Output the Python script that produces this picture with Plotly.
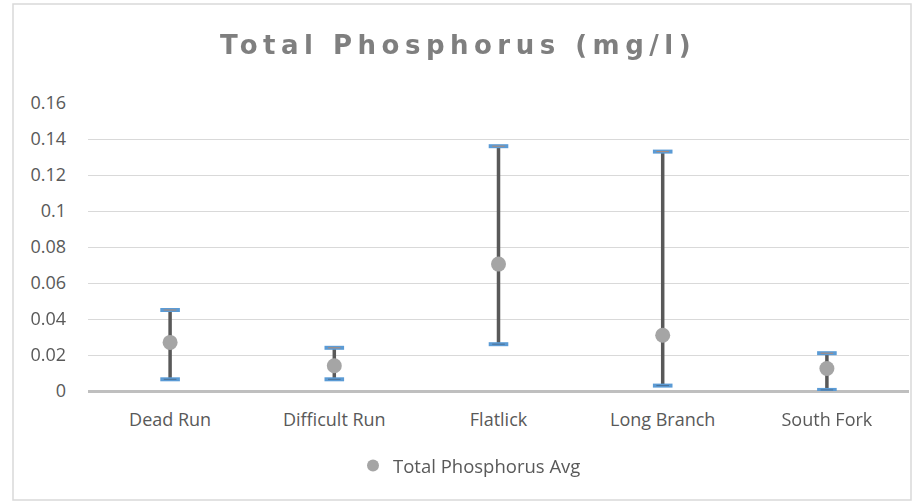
import plotly.graph_objects as go

categories = ["Dead Run", "Difficult Run", "Flatlick", "Long Branch", "South Fork"]
tp_max = [0.045, 0.024, 0.136, 0.133, 0.021]
tp_min = [0.0065, 0.0065, 0.026, 0.003, 0.0006]
tp_avg = [0.027, 0.014, 0.0705, 0.031, 0.0125]
y_ticks = [0, 0.02, 0.04, 0.06, 0.08, 0.1, 0.12, 0.14, 0.16]
y_tick_text = ["0", "0.02", "0.04", "0.06", "0.08", "0.1", "0.12", "0.14", "0.16"]

W, H = 916, 502
L, R, T, B = 88, 7, 103, 111
pw, ph = W - L - R, H - T - B

# high-low segments
hl_x, hl_y = [], []
for c, lo, hi in zip(categories, tp_min, tp_max):
    hl_x += [c, c, None]
    hl_y += [lo, hi, None]

fig = go.Figure()
fig.add_trace(go.Scatter(x=hl_x, y=hl_y, mode="lines",
                         line=dict(color="#595959", width=3.5),
                         showlegend=False, hoverinfo="skip"))
for vals, inner in [(tp_max, "#ED7D31"), (tp_min, "#44546A")]:
    fig.add_trace(go.Scatter(x=categories, y=vals, mode="markers",
                             marker=dict(symbol="line-ew-open", size=14, color="#5B9BD5",
                                         line=dict(color="#5B9BD5", width=4)),
                             showlegend=False, hoverinfo="skip"))
    fig.add_trace(go.Scatter(x=categories, y=vals, mode="markers",
                             marker=dict(symbol="line-ew-open", size=9, color=inner,
                                         line=dict(color=inner, width=1)),
                             opacity=0.6, showlegend=False, hoverinfo="skip"))
fig.add_trace(go.Scatter(x=categories, y=tp_avg, mode="markers",
                         name="Total Phosphorus Avg",
                         marker=dict(symbol="circle", size=15, color="#A5A5A5")))

def px(x):
    return (x - L) / pw

def py(y):
    return (H - B - y) / ph

fig.update_layout(
    width=W, height=H,
    margin=dict(l=L, r=R, t=T, b=B),
    paper_bgcolor="white", plot_bgcolor="white",
    font=dict(family="Open Sans", size=18, color="#595959"),
    title=dict(text="<b>Total Phosphorus (mg/l)</b>",
               font=dict(family="DejaVu Sans", size=26, color="#7F7F7F"),
               x=0.5, xanchor="center", y=1 - 45 / H, yanchor="middle"),
    xaxis=dict(type="category", categoryorder="array", categoryarray=categories,
               range=[-0.5, len(categories) - 0.5],
               showgrid=False, showline=False, zeroline=False,
               ticks="", ticklabelstandoff=16,
               tickfont=dict(family="Open Sans", size=18, color="#595959")),
    yaxis=dict(range=[0, 0.16], tickvals=y_ticks, ticktext=y_tick_text,
               showgrid=True, gridcolor="#D9D9D9", gridwidth=1,
               zeroline=True, zerolinecolor="#BFBFBF", zerolinewidth=3,
               showline=False, ticks="", ticklabelstandoff=21,
               tickfont=dict(family="Open Sans", size=18, color="#595959")),
    legend=dict(orientation="h", x=px(353), xanchor="left",
                y=py(466), yanchor="middle",
                font=dict(family="Open Sans", size=18.5, color="#595959"),
                itemsizing="constant"),
    shapes=[dict(type="rect", xref="paper", yref="paper",
                 x0=px(13), x1=px(911), y0=py(500), y1=py(4),
                 line=dict(color="#D9D9D9", width=1.5), layer="below")],
)

post = """
document.body.style.margin='0';
document.querySelectorAll('.gtitle').forEach(function(e){e.style.letterSpacing='5.5px';});
"""
fig.write_html("out.html", post_script=post, config={"displayModeBar": False})
